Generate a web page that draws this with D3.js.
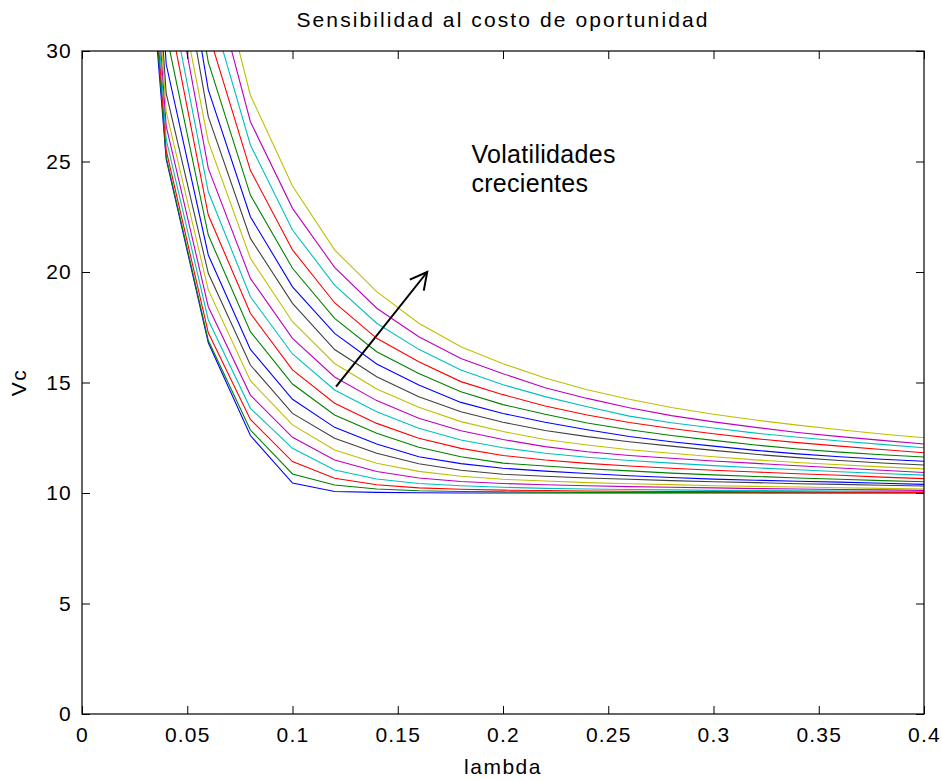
<!DOCTYPE html>
<html>
<head>
<meta charset="utf-8">
<script src="https://cdn.jsdelivr.net/npm/d3@7"></script>
<style>
  body { margin: 0; background: #fff; }
  svg { display: block; font-family: "Liberation Sans", Arial, Helvetica, sans-serif; }
  .tick line { stroke: #000; }
  .tick text { font-size: 21px; letter-spacing: 1.2px; fill: #000; }
  .curve { fill: none; stroke-width: 1.1; }
</style>
</head>
<body>
<svg></svg>
<script>
// lambda values (x) and Vc curves, one row per volatility (lowest first)
var lambda = [0.02, 0.04, 0.06, 0.08, 0.10, 0.12, 0.14, 0.16, 0.18, 0.20,
              0.22, 0.24, 0.26, 0.28, 0.30, 0.32, 0.34, 0.36, 0.38, 0.40];

var vc = [
  [48.6, 25.1, 16.8, 12.6, 10.45, 10.07, 10.03, 10.01, 10.0, 10.0, 10.0, 10.0, 10.0, 10.0, 10.0, 10.0, 10.0, 10.0, 10.0, 10.0],
  [50.5, 25.2, 16.9, 12.85, 10.86, 10.36, 10.18, 10.1, 10.07, 10.05, 10.04, 10.03, 10.03, 10.02, 10.02, 10.02, 10.01, 10.01, 10.01, 10.01],
  [51.9, 25.5, 17.25, 13.33, 11.42, 10.67, 10.37, 10.23, 10.17, 10.13, 10.11, 10.09, 10.08, 10.07, 10.06, 10.05, 10.05, 10.04, 10.04, 10.03],
  [52.9, 26.0, 17.83, 13.83, 12.02, 11.04, 10.63, 10.43, 10.33, 10.26, 10.21, 10.18, 10.16, 10.14, 10.12, 10.11, 10.1, 10.09, 10.08, 10.07],
  [53.8, 26.6, 18.43, 14.43, 12.52, 11.49, 10.97, 10.68, 10.52, 10.43, 10.37, 10.33, 10.29, 10.26, 10.23, 10.2, 10.18, 10.16, 10.14, 10.12],
  [55.0, 27.25, 19.19, 15.08, 13.08, 11.95, 11.35, 10.98, 10.76, 10.62, 10.54, 10.47, 10.42, 10.38, 10.33, 10.3, 10.27, 10.24, 10.21, 10.18],
  [55.7, 28.08, 19.94, 15.79, 13.6, 12.48, 11.8, 11.32, 11.03, 10.85, 10.76, 10.68, 10.62, 10.56, 10.51, 10.47, 10.42, 10.39, 10.35, 10.32],
  [58, 29.4, 20.77, 16.5, 14.24, 12.97, 12.22, 11.64, 11.33, 11.12, 10.99, 10.88, 10.78, 10.7, 10.63, 10.58, 10.53, 10.49, 10.44, 10.39],
  [60, 30.8, 21.67, 17.3, 14.93, 13.53, 12.7, 12.07, 11.64, 11.35, 11.22, 11.1, 11.0, 10.9, 10.82, 10.75, 10.68, 10.62, 10.56, 10.51],
  [62, 32.3, 22.58, 18.13, 15.57, 14.06, 13.15, 12.48, 12.02, 11.7, 11.49, 11.34, 11.22, 11.12, 11.03, 10.95, 10.87, 10.8, 10.72, 10.65],
  [64, 33.4, 23.63, 18.88, 16.29, 14.66, 13.68, 12.93, 12.4, 12.05, 11.8, 11.62, 11.47, 11.35, 11.24, 11.14, 11.05, 10.96, 10.88, 10.81],
  [66, 35.0, 24.69, 19.71, 17.0, 15.25, 14.18, 13.38, 12.82, 12.42, 12.1, 11.87, 11.7, 11.57, 11.45, 11.34, 11.23, 11.13, 11.03, 10.93],
  [68, 35.7, 25.9, 20.62, 17.75, 15.86, 14.71, 13.88, 13.23, 12.78, 12.42, 12.17, 11.96, 11.8, 11.64, 11.5, 11.38, 11.28, 11.18, 11.09],
  [70, 37.8, 27.03, 21.52, 18.58, 16.49, 15.26, 14.36, 13.68, 13.2, 12.83, 12.55, 12.32, 12.12, 11.93, 11.75, 11.6, 11.47, 11.36, 11.27],
  [72, 39.6, 28.24, 22.5, 19.33, 17.22, 15.84, 14.89, 14.1, 13.6, 13.2, 12.86, 12.56, 12.32, 12.12, 11.93, 11.77, 11.64, 11.53, 11.44],
  [74, 40.5, 29.5, 23.48, 20.17, 17.9, 16.39, 15.41, 14.58, 14.0, 13.56, 13.17, 12.86, 12.6, 12.38, 12.17, 11.99, 11.85, 11.73, 11.63],
  [76, 42, 30.84, 24.6, 21.0, 18.61, 17.0, 15.94, 15.04, 14.45, 13.94, 13.53, 13.19, 12.92, 12.68, 12.46, 12.28, 12.12, 11.97, 11.82],
  [78, 44, 32.3, 25.75, 21.9, 19.41, 17.68, 16.5, 15.57, 14.9, 14.36, 13.9, 13.48, 13.18, 12.94, 12.71, 12.52, 12.35, 12.2, 12.05],
  [80, 46, 34.0, 26.8, 22.88, 20.21, 18.36, 17.07, 16.09, 15.4, 14.76, 14.28, 13.86, 13.5, 13.22, 12.97, 12.74, 12.55, 12.38, 12.22],
  [82, 48, 35.5, 28.0, 23.89, 21.0, 19.11, 17.68, 16.62, 15.85, 15.2, 14.67, 14.24, 13.87, 13.56, 13.3, 13.07, 12.86, 12.67, 12.5]
];

// matlab style color order, repeated
var colorOrder = ['#0000ff', '#008000', '#ff0000', '#00bfbf', '#bf00bf', '#bfbf00', '#404040'];

var xTicks = [0, 0.05, 0.1, 0.15, 0.2, 0.25, 0.3, 0.35, 0.4];
var yTicks = [0, 5, 10, 15, 20, 25, 30];

var titleText = 'Sensibilidad al costo de oportunidad';
var xLabel = 'lambda';
var yLabel = 'Vc';
var noteLines = ['Volatilidades', 'crecientes'];
var notePos = [0.185, 24.92];            // data units, first baseline
var arrowFrom = [0.1207, 14.81];
var arrowTo = [0.164, 20.0];

var width = 942, height = 780;
var margin = { top: 51, right: 18, bottom: 66, left: 82 };
var plotW = width - margin.left - margin.right;
var plotH = height - margin.top - margin.bottom;

var x = d3.scaleLinear().domain([0, 0.4]).range([0, plotW]);
var y = d3.scaleLinear().domain([0, 30]).range([plotH, 0]);

var svg = d3.select('svg')
  .attr('width', width)
  .attr('height', height);

svg.append('defs').append('clipPath')
  .attr('id', 'plot-clip')
  .append('rect')
  .attr('width', plotW)
  .attr('height', plotH);

var g = svg.append('g')
  .attr('transform', 'translate(' + margin.left + ',' + margin.top + ')');

// curves
var line = d3.line()
  .x(function(d, i) { return x(lambda[i]); })
  .y(function(d) { return y(d); });

g.append('g')
  .attr('clip-path', 'url(#plot-clip)')
  .selectAll('path.curve')
  .data(vc)
  .enter()
  .append('path')
  .attr('class', 'curve')
  .attr('stroke', function(d, i) { return colorOrder[i % colorOrder.length]; })
  .attr('d', line);

// axes, ticks pointing inward on all four sides
var fmt = function(d) { return String(d); };

g.append('g')
  .attr('transform', 'translate(0,' + plotH + ')')
  .call(d3.axisBottom(x).tickValues(xTicks).tickFormat(fmt).tickSizeInner(-8).tickSizeOuter(0).tickPadding(13));
g.append('g')
  .call(d3.axisTop(x).tickValues(xTicks).tickFormat('').tickSizeInner(-8).tickSizeOuter(0));
g.append('g')
  .call(d3.axisLeft(y).tickValues(yTicks).tickFormat(fmt).tickSizeInner(-8).tickSizeOuter(0).tickPadding(10));
g.append('g')
  .attr('transform', 'translate(' + plotW + ',0)')
  .call(d3.axisRight(y).tickValues(yTicks).tickFormat('').tickSizeInner(-8).tickSizeOuter(0));

g.selectAll('.domain').remove();
g.selectAll('.tick text').attr('font-family', null).attr('font-size', null);

g.append('rect')
  .attr('width', plotW)
  .attr('height', plotH)
  .attr('fill', 'none')
  .attr('stroke', '#000')
  .attr('stroke-width', 1.2);

// title and axis labels
svg.append('text')
  .attr('x', margin.left + plotW / 2)
  .attr('y', 27)
  .attr('text-anchor', 'middle')
  .style('font-size', '21px')
  .style('letter-spacing', '2.1px')
  .text(titleText);

svg.append('text')
  .attr('x', margin.left + plotW / 2)
  .attr('y', 774)
  .attr('text-anchor', 'middle')
  .style('font-size', '21px')
  .style('letter-spacing', '1.5px')
  .text(xLabel);

svg.append('text')
  .attr('transform', 'translate(26,' + (margin.top + plotH / 2) + ') rotate(-90)')
  .attr('text-anchor', 'middle')
  .style('font-size', '21px')
  .style('letter-spacing', '1.5px')
  .text(yLabel);

// annotation
g.append('g')
  .selectAll('text')
  .data(noteLines)
  .enter()
  .append('text')
  .attr('x', x(notePos[0]))
  .attr('y', function(d, i) { return y(notePos[1]) + i * 28.5; })
  .style('font-size', '25px')
  .style('letter-spacing', '0.3px')
  .text(function(d) { return d; });

var ax1 = x(arrowFrom[0]), ay1 = y(arrowFrom[1]);
var ax2 = x(arrowTo[0]), ay2 = y(arrowTo[1]);
var ang = Math.atan2(ay1 - ay2, ax1 - ax2);
var headLen = 19, headAng = 28 * Math.PI / 180;

g.append('line')
  .attr('x1', ax1).attr('y1', ay1)
  .attr('x2', ax2).attr('y2', ay2)
  .attr('stroke', '#000')
  .attr('stroke-width', 2);

g.append('path')
  .attr('d', 'M' + (ax2 + headLen * Math.cos(ang + headAng)) + ',' + (ay2 + headLen * Math.sin(ang + headAng)) +
    'L' + ax2 + ',' + ay2 +
    'L' + (ax2 + headLen * Math.cos(ang - headAng)) + ',' + (ay2 + headLen * Math.sin(ang - headAng)))
  .attr('fill', 'none')
  .attr('stroke', '#000')
  .attr('stroke-width', 2);
</script>
</body>
</html>
